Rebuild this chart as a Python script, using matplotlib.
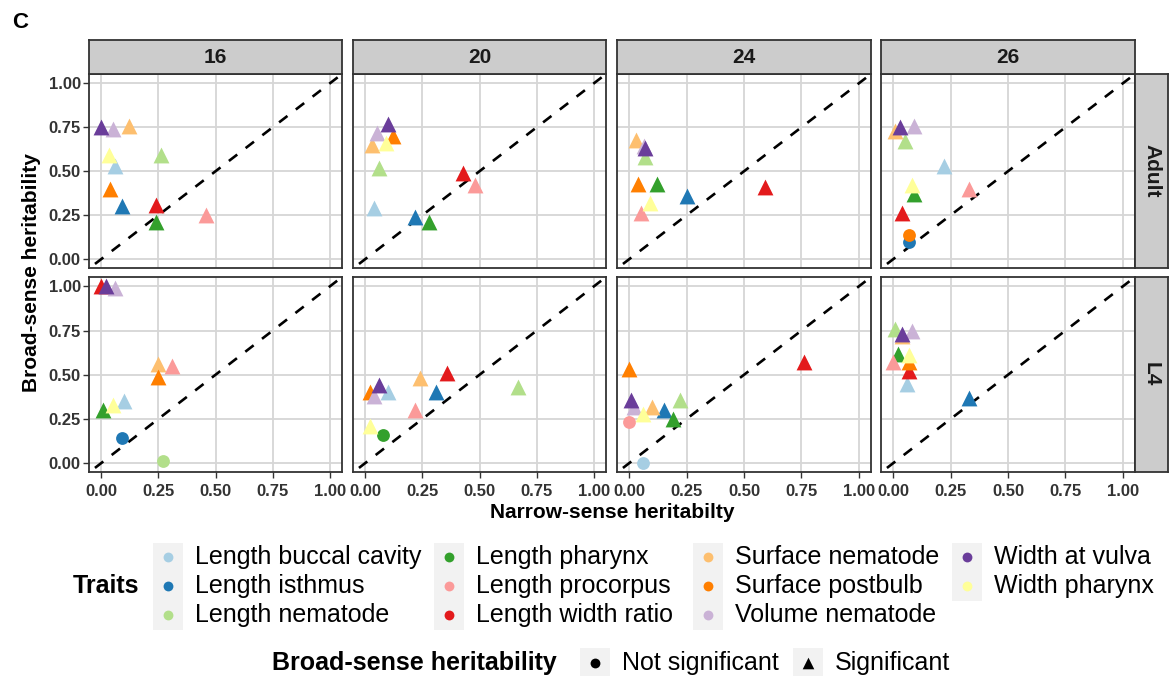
import matplotlib
matplotlib.use("Agg")
import matplotlib.pyplot as plt

plt.rcParams["font.family"] = ["Liberation Sans", "DejaVu Sans"]

TRAITS = ["Length buccal cavity", "Length isthmus", "Length nematode",
          "Length pharynx", "Length procorpus", "Length width ratio",
          "Surface nematode", "Surface postbulb", "Volume nematode",
          "Width at vulva", "Width pharynx"]
COLORS = ["#A6CEE3", "#1F78B4", "#B2DF8A", "#33A02C", "#FB9A99", "#E31A1C",
          "#FDBF6F", "#FF7F00", "#CAB2D6", "#6A3D9A", "#FFFF99"]
TEMPS = ["16", "20", "24", "26"]
STAGES = ["Adult", "L4"]
TICKS = [0.0, 0.25, 0.5, 0.75, 1.0]
TICK_LABELS = ["0.00", "0.25", "0.50", "0.75", "1.00"]

# (trait, narrow-sense h2, broad-sense H2, significant)
ADULT_16 = [("Width at vulva", 0.00, 0.75, 1), ("Volume nematode", 0.05, 0.74, 1),
            ("Surface nematode", 0.12, 0.76, 1), ("Width pharynx", 0.035, 0.59, 1),
            ("Length nematode", 0.26, 0.59, 1), ("Length buccal cavity", 0.06, 0.53, 1),
            ("Surface postbulb", 0.04, 0.40, 1), ("Length isthmus", 0.09, 0.30, 1),
            ("Length width ratio", 0.24, 0.31, 1), ("Length pharynx", 0.24, 0.21, 1),
            ("Length procorpus", 0.46, 0.25, 1)]
ADULT_20 = [("Width at vulva", 0.10, 0.77, 1), ("Volume nematode", 0.05, 0.72, 1),
            ("Surface postbulb", 0.12, 0.70, 1), ("Surface nematode", 0.03, 0.65, 1),
            ("Width pharynx", 0.09, 0.66, 1), ("Length nematode", 0.06, 0.52, 1),
            ("Length buccal cavity", 0.04, 0.29, 1), ("Length isthmus", 0.22, 0.24, 1),
            ("Length pharynx", 0.28, 0.21, 1), ("Length width ratio", 0.43, 0.49, 1),
            ("Length procorpus", 0.48, 0.42, 1)]
ADULT_24 = [("Surface nematode", 0.03, 0.68, 1), ("Volume nematode", 0.065, 0.645, 1),
            ("Width at vulva", 0.07, 0.63, 1), ("Length nematode", 0.07, 0.58, 1),
            ("Surface postbulb", 0.04, 0.43, 1), ("Length pharynx", 0.12, 0.43, 1),
            ("Length isthmus", 0.25, 0.36, 1), ("Width pharynx", 0.09, 0.32, 1),
            ("Length procorpus", 0.05, 0.26, 1), ("Length width ratio", 0.59, 0.41, 1)]
ADULT_26 = [("Surface nematode", 0.01, 0.73, 1), ("Width at vulva", 0.03, 0.75, 1),
            ("Volume nematode", 0.09, 0.76, 1), ("Length nematode", 0.05, 0.67, 1),
            ("Length buccal cavity", 0.22, 0.53, 1), ("Width pharynx", 0.08, 0.42, 1),
            ("Length pharynx", 0.09, 0.37, 1), ("Length procorpus", 0.33, 0.40, 1),
            ("Length width ratio", 0.04, 0.26, 1), ("Surface postbulb", 0.07, 0.14, 0),
            ("Length isthmus", 0.07, 0.10, 0)]
L4_16 = [("Length width ratio", 0.00, 1.00, 1), ("Width at vulva", 0.02, 1.00, 1),
         ("Volume nematode", 0.06, 0.99, 1), ("Surface nematode", 0.25, 0.56, 1),
         ("Length procorpus", 0.31, 0.55, 1), ("Surface postbulb", 0.25, 0.49, 1),
         ("Length pharynx", 0.01, 0.30, 1), ("Width pharynx", 0.05, 0.33, 1),
         ("Length buccal cavity", 0.10, 0.35, 1), ("Length isthmus", 0.09, 0.14, 0),
         ("Length nematode", 0.27, 0.01, 0)]
L4_20 = [("Surface postbulb", 0.02, 0.40, 1), ("Width at vulva", 0.06, 0.44, 1),
         ("Volume nematode", 0.04, 0.38, 1), ("Length buccal cavity", 0.10, 0.40, 1),
         ("Surface nematode", 0.24, 0.48, 1), ("Length isthmus", 0.31, 0.40, 1),
         ("Length width ratio", 0.36, 0.51, 1), ("Length procorpus", 0.22, 0.30, 1),
         ("Width pharynx", 0.02, 0.21, 1), ("Length pharynx", 0.08, 0.16, 0),
         ("Length nematode", 0.67, 0.43, 1)]
L4_24 = [("Surface postbulb", 0.00, 0.53, 1), ("Width at vulva", 0.01, 0.36, 1),
         ("Volume nematode", 0.02, 0.32, 1), ("Surface nematode", 0.10, 0.32, 1),
         ("Width pharynx", 0.06, 0.28, 1), ("Length isthmus", 0.15, 0.30, 1),
         ("Length nematode", 0.22, 0.36, 1), ("Length pharynx", 0.19, 0.25, 1),
         ("Length procorpus", 0.00, 0.23, 0), ("Length buccal cavity", 0.06, 0.00, 0),
         ("Length width ratio", 0.76, 0.57, 1)]
L4_26 = [("Length nematode", 0.01, 0.76, 1), ("Surface nematode", 0.04, 0.72, 1),
         ("Width at vulva", 0.04, 0.73, 1), ("Volume nematode", 0.08, 0.75, 1),
         ("Length pharynx", 0.02, 0.62, 1), ("Width pharynx", 0.07, 0.61, 1),
         ("Length procorpus", 0.00, 0.57, 1), ("Surface postbulb", 0.07, 0.57, 1),
         ("Length width ratio", 0.07, 0.52, 1), ("Length buccal cavity", 0.06, 0.45, 1),
         ("Length isthmus", 0.33, 0.37, 1)]

PANELS = {("Adult", "16"): ADULT_16, ("Adult", "20"): ADULT_20,
          ("Adult", "24"): ADULT_24, ("Adult", "26"): ADULT_26,
          ("L4", "16"): L4_16, ("L4", "20"): L4_20,
          ("L4", "24"): L4_24, ("L4", "26"): L4_26}

W, H = 1170, 676
COL_X = [(89, 342), (353, 606), (617, 871), (881, 1135)]
ROW_Y = [(74, 268), (277, 472)]
EDGE = "#333333"


def box(x0, y0, x1, y1):
    return [x0 / W, 1 - y1 / H, (x1 - x0) / W, (y1 - y0) / H]


fig = plt.figure(figsize=(W / 100, H / 100), dpi=100)
color_of = dict(zip(TRAITS, COLORS))

for r, stage in enumerate(STAGES):
    for c, temp in enumerate(TEMPS):
        x0, x1 = COL_X[c]
        y0, y1 = ROW_Y[r]
        ax = fig.add_axes(box(x0, y0, x1, y1))
        ax.set_xlim(-0.053, 1.053)
        ax.set_ylim(-0.05, 1.053)
        ax.set_xticks(TICKS)
        ax.set_yticks(TICKS)
        ax.set_xticklabels(TICK_LABELS)
        ax.set_yticklabels(TICK_LABELS)
        ax.grid(color="#D6D6D6", lw=1.3)
        ax.set_axisbelow(True)
        for s in ax.spines.values():
            s.set_color(EDGE)
            s.set_linewidth(1.3)
        ax.tick_params(left=(c == 0), bottom=(r == 1), labelleft=(c == 0),
                       labelbottom=(r == 1), length=4, width=1, color=EDGE,
                       labelcolor=EDGE, labelsize=12, pad=2)
        ax.tick_params(axis="x", pad=5)
        for lab in ax.get_xticklabels() + ax.get_yticklabels():
            lab.set_fontweight("bold")
        ax.plot([-0.1, 1.1], [-0.1, 1.1], color="black", lw=1.9,
                ls=(0, (4, 4)), zorder=2)
        pts = sorted(PANELS[(stage, temp)], key=lambda p: TRAITS.index(p[0]))
        for trait, hx, hy, sig in pts:
            ax.scatter(hx, hy, s=130 if sig else 85, marker="^" if sig else "o",
                       color=color_of[trait], linewidths=0, zorder=3)

        if r == 0:
            st = fig.add_axes(box(x0, 40, x1, 74))
            st.set_facecolor("#CCCCCC")
            st.set_xticks([]); st.set_yticks([])
            for s in st.spines.values():
                s.set_color(EDGE); s.set_linewidth(1.3)
            st.text(0.5, 0.48, temp, ha="center", va="center", fontsize=15,
                    fontweight="bold", color="#1A1A1A", transform=st.transAxes)
    y0, y1 = ROW_Y[r]
    st = fig.add_axes(box(1135, y0, 1168, y1))
    st.set_facecolor("#CCCCCC")
    st.set_xticks([]); st.set_yticks([])
    for s in st.spines.values():
        s.set_color(EDGE); s.set_linewidth(1.3)
    st.text(0.5, 0.5, stage, ha="center", va="center", fontsize=15, rotation=-90,
            fontweight="bold", color="#1A1A1A", transform=st.transAxes)

fig.text(20 / W, 1 - 22 / H, "C", ha="center", va="center", fontsize=16,
         fontweight="bold")
fig.text(612 / W, 1 - 513 / H, "Narrow-sense heritabilty", ha="center", va="center",
         fontsize=15, fontweight="bold")
fig.text(32 / W, 1 - 273 / H, "Broad-sense heritability", ha="center", va="center",
         fontsize=15, fontweight="bold", rotation=90)

# legends, drawn in pixel coordinates
lg = fig.add_axes([0, 0, 1, 1], zorder=-1)
lg.set_xlim(0, W)
lg.set_ylim(H, 0)
lg.axis("off")

KEY_X = [168, 449, 708, 967]
ROW_YS = [557, 586, 615]
lg.text(139, 586, "Traits", ha="right", va="center", fontsize=18, fontweight="bold")
for k, (trait, col) in enumerate(zip(TRAITS, COLORS)):
    j, i = divmod(k, 3)
    kx, ky = KEY_X[j], ROW_YS[i]
    lg.add_patch(plt.Rectangle((kx - 15, ky - 14.5), 30, 29, color="#F2F2F2", lw=0))
    lg.scatter(kx, ky, s=50, color=col, linewidths=0)
    lg.text(kx + 27, ky, trait, ha="left", va="center", fontsize=18)

lg.text(272, 663, "Broad-sense heritability", ha="left", va="center", fontsize=18,
        fontweight="bold")
for kx, mk, label in [(595, "o", "Not significant"), (808, "^", "Significant")]:
    lg.add_patch(plt.Rectangle((kx - 15, 648), 30, 30, color="#F2F2F2", lw=0))
    lg.scatter(kx, 663, s=50 if mk == "o" else 70, marker=mk, color="black",
               linewidths=0)
    lg.text(kx + 27, 663, label, ha="left", va="center", fontsize=18)

fig.savefig("out.png", dpi=100)
